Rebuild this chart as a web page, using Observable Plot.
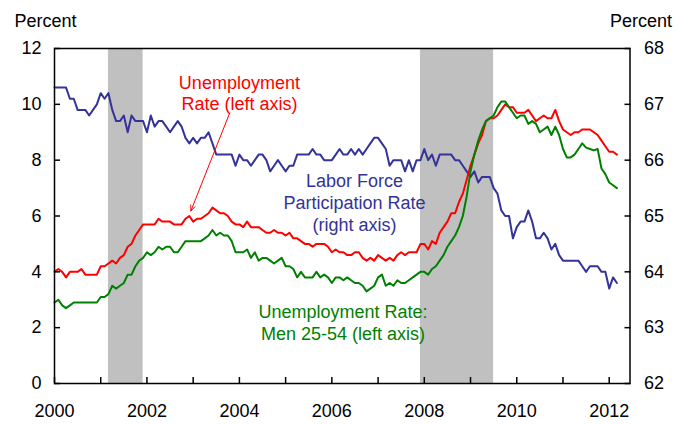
<!DOCTYPE html>
<html><head><meta charset="utf-8">
<script src="https://cdn.jsdelivr.net/npm/d3@7"></script>
<script src="https://cdn.jsdelivr.net/npm/@observablehq/plot@0.6"></script>
<style>
body{margin:0;background:#fff}
#chart{width:689px;height:424px}
</style>
</head><body><div id="chart"></div>
<script>
// Monthly data, January 2000 through March 2012
const startYear = 2000;
const unemploymentRate = [
  4.0,4.1,4.0,3.8,4.0,4.0,4.0,4.1,3.9,3.9,3.9,3.9,
  4.2,4.2,4.3,4.4,4.3,4.5,4.6,4.9,5.0,5.3,5.5,5.7,
  5.7,5.7,5.7,5.9,5.8,5.8,5.8,5.7,5.7,5.7,5.9,6.0,
  5.8,5.9,5.9,6.0,6.1,6.3,6.2,6.1,6.1,6.0,5.8,5.7,
  5.7,5.6,5.8,5.6,5.6,5.6,5.5,5.4,5.4,5.5,5.4,5.4,
  5.3,5.4,5.2,5.2,5.1,5.0,5.0,4.9,5.0,5.0,5.0,4.9,
  4.7,4.8,4.7,4.7,4.6,4.6,4.7,4.7,4.5,4.4,4.5,4.4,
  4.6,4.5,4.4,4.5,4.4,4.6,4.7,4.6,4.7,4.7,4.7,5.0,
  5.0,4.8,5.1,5.0,5.4,5.6,5.8,6.1,6.1,6.5,6.8,7.3,
  7.8,8.2,8.6,8.9,9.4,9.5,9.5,9.6,9.8,10.0,9.9,9.9,
  9.7,9.7,9.7,9.8,9.6,9.4,9.5,9.6,9.5,9.5,9.8,9.4,
  9.1,9.0,8.9,9.0,9.0,9.1,9.1,9.1,9.0,8.9,8.7,8.5,
  8.3,8.3,8.2
];
const participationRate = [
  67.3,67.3,67.3,67.3,67.1,67.1,66.9,66.9,66.9,66.8,66.9,67.0,
  67.2,67.1,67.2,66.9,66.7,66.7,66.8,66.5,66.8,66.7,66.7,66.7,
  66.5,66.8,66.6,66.7,66.7,66.6,66.5,66.6,66.7,66.6,66.4,66.3,
  66.4,66.3,66.4,66.4,66.5,66.3,66.1,66.1,66.1,66.1,66.1,65.9,
  66.1,66.0,66.0,65.9,66.0,66.1,66.1,66.0,65.8,65.9,66.0,65.9,
  65.8,65.9,65.9,66.1,66.1,66.1,66.1,66.2,66.1,66.1,66.0,66.0,
  66.0,66.1,66.2,66.1,66.1,66.2,66.1,66.2,66.1,66.2,66.3,66.4,
  66.4,66.3,66.2,65.9,66.0,66.0,66.0,65.8,66.0,65.8,66.0,66.0,
  66.2,66.0,66.1,65.9,66.1,66.1,66.1,66.1,66.0,66.0,65.9,65.8,
  65.7,65.8,65.6,65.7,65.7,65.7,65.5,65.4,65.1,65.0,65.0,64.6,
  64.8,64.9,64.9,65.1,64.9,64.6,64.6,64.7,64.6,64.4,64.5,64.3,
  64.2,64.2,64.2,64.2,64.2,64.1,64.0,64.1,64.1,64.1,64.0,64.0,
  63.7,63.9,63.8
];
const menUnemploymentRate = [
  2.9,3.0,2.8,2.7,2.8,2.9,2.9,2.9,2.9,2.9,2.9,2.9,
  3.1,3.1,3.2,3.5,3.4,3.5,3.6,3.9,3.9,4.2,4.4,4.5,
  4.7,4.6,4.7,4.9,4.8,4.9,4.9,4.7,4.7,4.9,5.1,5.1,
  5.1,5.1,5.1,5.2,5.3,5.5,5.3,5.4,5.3,5.3,5.1,4.7,
  4.7,4.7,4.8,4.5,4.7,4.4,4.5,4.5,4.4,4.3,4.4,4.5,
  4.2,4.2,4.1,3.8,4.0,3.8,3.8,3.8,4.0,3.8,3.9,3.8,
  3.6,3.8,3.8,3.7,3.8,3.7,3.6,3.6,3.5,3.3,3.4,3.5,
  3.8,3.9,3.5,3.6,3.5,3.7,3.6,3.6,3.7,3.8,3.9,4.0,
  4.0,3.9,4.1,4.2,4.4,4.6,4.9,5.1,5.3,5.6,6.0,6.7,
  7.6,8.2,8.7,9.1,9.4,9.5,9.6,9.9,10.1,10.1,9.9,9.7,
  9.5,9.6,9.6,9.3,9.4,9.3,9.0,9.1,9.2,8.9,9.2,8.9,
  8.4,8.1,8.1,8.2,8.4,8.6,8.45,8.4,8.35,8.4,7.7,7.5,
  7.2,7.1,7.0
];
// Recessions: [year, month] of peak and trough
const recessionStart = [[2001, 3], [2007, 12]];
const recessionEnd = [[2001, 11], [2009, 6]];

const leftTicks = [0, 2, 4, 6, 8, 10, 12];
const rightTickLabels = [62, 63, 64, 65, 66, 67, 68];
const yearTicks = [2000,2001,2002,2003,2004,2005,2006,2007,2008,2009,2010,2011,2012];

const labelLines = ["Unemployment", "Rate (left axis)", "Labor Force", "Participation Rate", "(right axis)", "Unemployment Rate:", "Men 25-54 (left axis)"];
const labelX = [2004.0, 2004.0, 2006.49, 2006.49, 2006.49, 2006.24, 2006.24];
const labelY = [10.54, 9.78, 7.03, 6.25, 5.48, 2.35, 1.57];
const labelSeries = ["u", "u", "p", "p", "p", "m", "m"];
const arrowFrom = [2003.79, 9.69];
const arrowTo = [2002.95, 6.18];

const colors = {u: "#ff0000", p: "#333399", m: "#008000"};

// right-axis (62..68) mapped onto left-axis units (0..12)
const rightToLeft = v => (v - rightTickLabels[0]) * (leftTicks[leftTicks.length - 1] / (rightTickLabels[rightTickLabels.length - 1] - rightTickLabels[0]));

const monthX = i => startYear + i / 12;
const rows = [];
participationRate.forEach((v, i) => rows.push({x: monthX(i), y: rightToLeft(v), s: "p"}));
unemploymentRate.forEach((v, i) => rows.push({x: monthX(i), y: v, s: "u"}));
menUnemploymentRate.forEach((v, i) => rows.push({x: monthX(i), y: v, s: "m"}));

const recessions = recessionStart.map((s, i) => ({
  start: s[0] + (s[1] - 1) / 12,
  end: recessionEnd[i][0] + recessionEnd[i][1] / 12
}));

const labels = labelLines.map((t, i) => ({t, x: labelX[i], y: labelY[i], s: labelSeries[i]}));

const chart = Plot.plot({
  width: 689,
  height: 424,
  marginLeft: 54,
  marginRight: 59.5,
  marginTop: 48,
  marginBottom: 41,
  x: {domain: [2000, 2012.45]},
  y: {domain: [0, 12]},
  style: {fontFamily: "'Liberation Sans', Arial, sans-serif", fontSize: "18px", color: "#000", background: "#fff"},
  marks: [
    Plot.rect(recessions, {x1: "start", x2: "end", fill: "#c0c0c0"}),
    Plot.line(rows.filter(d => d.s === "p"), {x: "x", y: "y", stroke: colors.p, strokeWidth: 2}),
    Plot.line(rows.filter(d => d.s === "u"), {x: "x", y: "y", stroke: colors.u, strokeWidth: 2}),
    Plot.line(rows.filter(d => d.s === "m"), {x: "x", y: "y", stroke: colors.m, strokeWidth: 2}),
    Plot.frame({stroke: "#000", strokeWidth: 1.5}),
    Plot.axisY({anchor: "left", ticks: leftTicks, tickSize: -6, tickPadding: 19, tickFormat: d => String(d), label: null, strokeWidth: 1.5}),
    Plot.axisY({anchor: "right", ticks: leftTicks, tickSize: -6, tickPadding: 20, tickFormat: d => String(rightTickLabels[leftTicks.indexOf(d)]), label: null, strokeWidth: 1.5}),
    Plot.axisX({ticks: yearTicks, tickSize: -6, tickPadding: 27, tickFormat: d => d % 2 === 0 ? String(d) : "", label: null, strokeWidth: 1.5}),
    Plot.text(labels, {x: "x", y: "y", text: "t", fill: d => colors[d.s], textAnchor: "middle", lineAnchor: "bottom", fontSize: 18}),
    Plot.arrow([0], {x1: () => arrowFrom[0], y1: () => arrowFrom[1], x2: () => arrowTo[0], y2: () => arrowTo[1], stroke: colors.u, strokeWidth: 1, headLength: 9, headAngle: 45}),
    Plot.text(["Percent"], {text: d => d, frameAnchor: "top-left", dx: -40, dy: -22, textAnchor: "start", lineAnchor: "bottom", fontSize: 18}),
    Plot.text(["Percent"], {text: d => d, frameAnchor: "top-right", dx: 42, dy: -22, textAnchor: "end", lineAnchor: "bottom", fontSize: 18})
  ]
});
document.getElementById("chart").appendChild(chart);
</script>
</body></html>
